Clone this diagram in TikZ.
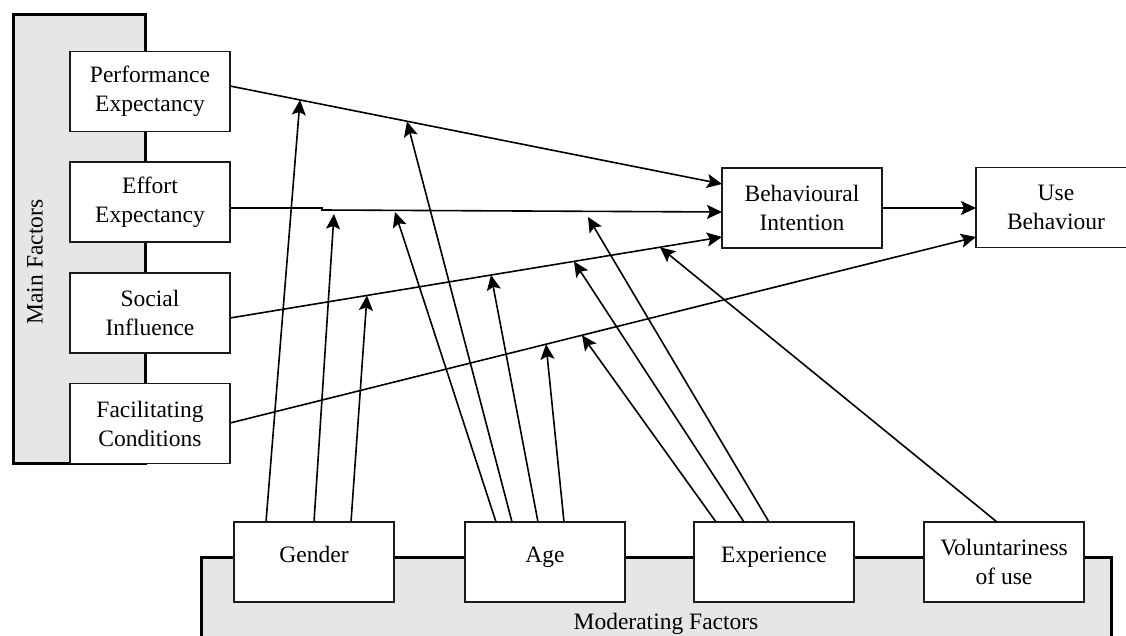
\documentclass[tikz,border=0pt]{standalone}
\usepackage{fontspec}
\setmainfont{Liberation Serif}
\usetikzlibrary{arrows.meta,calc}
\definecolor{panelgrey}{HTML}{E6E6E6}
\definecolor{boxline}{HTML}{1A1A1A}
\begin{document}
\begin{tikzpicture}[x=1pt,y=-1pt,
  box/.style={draw=boxline, line width=1.7pt, fill=white, minimum width=160pt,
    minimum height=80pt, align=center, inner sep=0pt,
    font=\fontsize{23.5}{29}\selectfont},
  modbox/.style={box, text height=16pt, text depth=16pt},
  panelfill/.style={fill=panelgrey},
  panelline/.style={draw=black, line width=3pt},
  arr/.style={line width=1.6pt, -{Stealth[length=15pt,width=14pt,inset=3pt]}},
  lbl/.style={font=\fontsize{23.5}{29}\selectfont, inner sep=0pt}]
\useasboundingbox (0,0) rectangle (1126,636);
\clip (0,0) rectangle (1126,636);

% panels
\fill[panelfill] (13,15) rectangle (145,463);
\draw[panelline] (13,15) rectangle (145,463);
\fill[panelfill] (201,557) rectangle (1111,660);
\draw[panelline] (201,660) -- (201,557) -- (1111,557) -- (1111,660);

\node[lbl, rotate=90] (mflabel) at (35,262) {Main Factors};
\node[lbl] (modlabel) at (666,624) {Moderating Factors};

% main factor boxes
\node[box] (pe) at (150,91.5) {Performance\\Expectancy};
\node[box] (ee) at (150,202) {Effort\\Expectancy};
\node[box] (si) at (150,313) {Social\\Influence};
\node[box] (fc) at (150,423.5) {Facilitating\\Conditions};

% outcome boxes
\node[box] (bi) at (802,208) {Behavioural\\Intention};
\node[box] (ub) at (1056,207.5) {Use\\Behaviour};

% moderator boxes
\node[modbox] (gen) at (314,562) {Gender};
\node[modbox] (age) at (545,562) {Age};
\node[modbox] (exp) at (774,562) {Experience};
\node[box] (vol) at (1004,562) {Voluntariness\\of use};

% connector end points
\coordinate (pe-o) at (230,86);
\coordinate (ee-o) at (230,208);
\coordinate (si-o) at (230,318);
\coordinate (fc-o) at (230,423);
\coordinate (bi-i1) at (722,184);
\coordinate (bi-i2) at (722,212);
\coordinate (bi-i3) at (722,237);
\coordinate (ub-i1) at (976,208);
\coordinate (ub-i2) at (976,237);

% main paths
\draw[arr] (pe-o) -- (bi-i1);
\draw[arr] (ee-o) -- (322,208) -- (322,210) -- (bi-i2);
\draw[arr] (si-o) -- (bi-i3);
\draw[arr] (fc-o) -- (ub-i2);
\draw[arr] (bi.east |- ub-i1) -- (ub-i1);

% moderation tips
\coordinate (t-g1) at (300,100);
\coordinate (t-g2) at (334,214);
\coordinate (t-g3) at (367,295.5);
\coordinate (t-a1) at (395,212);
\coordinate (t-a2) at (407,121.5);
\coordinate (t-a3) at (491,275);
\coordinate (t-a4) at (546,344.3);
\coordinate (t-e1) at (582,335.3);
\coordinate (t-e2) at (574,261.5);
\coordinate (t-e3) at (588,217);
\coordinate (t-v1) at (660,247.3);

% moderation sources
\coordinate (s-g1) at (266,522);
\coordinate (s-g2) at (314,522);
\coordinate (s-g3) at (351,522);
\coordinate (s-a1) at (496,522);
\coordinate (s-a2) at (512,522);
\coordinate (s-a3) at (538,522);
\coordinate (s-a4) at (564,522);
\coordinate (s-e1) at (716,522);
\coordinate (s-e2) at (744,522);
\coordinate (s-e3) at (769,522);
\coordinate (s-v1) at (997,522);

\foreach \m in {g1,g2,g3,a1,a2,a3,a4,e1,e2,e3,v1}
  \draw[arr] (s-\m) -- (t-\m);
\end{tikzpicture}
\end{document}
